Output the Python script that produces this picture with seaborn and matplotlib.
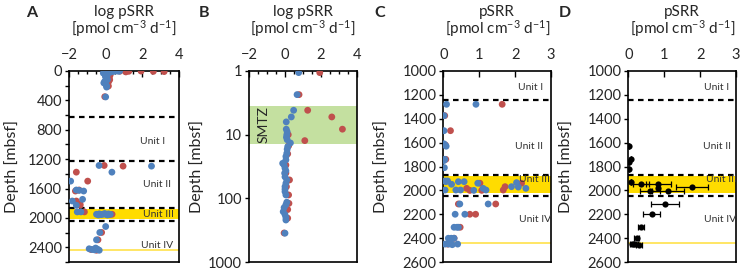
import numpy as np
import pandas as pd
import seaborn as sns
import matplotlib.pyplot as plt
from matplotlib.ticker import MultipleLocator, FixedLocator, FixedFormatter, NullLocator

# shallow samples (log pSRR), used in panel A top and panel B
shallow_depth_blue = [1.06, 2.35, 4.14, 5.27, 6.3, 8.2, 9.0, 10.0, 11.0, 12.0, 13.5, 15.4, 17.0, 19.6,
                      22.0, 24.9, 28.2, 30.0, 33.7, 37.0, 40.3, 46.0, 51.4, 58.0, 65.5, 72.0, 78.5,
                      88.5, 115, 126, 140, 162, 180, 200, 219, 353]
shallow_log_blue = [0.76, 0.67, 0.48, 0.35, 0.07, 0.07, 0.12, 0.10, 0.08, 0.12, 0.30, 0.15, 0.12, 0.10,
                    0.05, 0.05, -0.13, -0.05, 0.0, 0.05, -0.02, 0.0, 0.10, 0.05, 0.0, 0.0, 0.0,
                    0.05, 0.10, 0.05, -0.05, -0.10, 0.0, 0.05, 0.05, 0.0]
shallow_depth_red = [1.06, 2.35, 4.14, 5.27, 8.2, 10.0, 12.4, 15.0, 20.0, 30.0, 40.0, 51.4, 65.5,
                     88.5, 120, 150, 205, 350]
shallow_log_red = [1.93, 0.78, 1.26, 2.60, 3.19, 0.18, 1.10, 0.20, 0.15, 0.05, 0.05, 0.25, 0.08,
                   0.20, 0.22, 0.15, 0.15, -0.05]

# deep samples (log pSRR), panel A
deep_depth_blue = [1286, 1295, 1377, 1499, 1620, 1625, 1634, 1747, 1770, 1828, 1918, 1918,
                   1950, 1945, 1955, 1950, 1940, 1955, 1945, 1950, 1960, 1960,
                   2117, 2198, 2298, 2420, 2430, 2435, 2425, 2440, 2410]
deep_log_blue = [-0.36, 2.50, 0.34, -1.91, -1.60, -1.45, -1.20, -1.26, -1.82, -1.60, -1.55, -1.35,
                 -0.50, -0.35, -0.25, -0.15, -0.05, 0.05, 0.15, 0.25, -0.40, 0.10,
                 0.0, -0.32, -0.50, -0.90, -0.75, -0.60, -0.45, -0.35, -0.55]
deep_depth_red = [1286, 1295, 1377, 1499, 1620, 1634, 1770, 1810, 1828, 1918, 1950, 1955,
                  2198, 2298, 2430, 2440]
deep_log_red = [-0.08, 0.95, -1.60, -0.98, -1.45, -1.65, -1.60, -1.40, -1.39, -1.16, 0.35, 0.20,
                -0.22, -0.42, -0.80, -0.50]

# deep samples (linear pSRR), panel C
c_depth_blue = [1279, 1279, 1374, 1500, 1610, 1620, 1630, 1740, 1750, 1810, 1921, 1921, 1927,
                1949, 1927, 1927, 1997, 1997, 2000, 1940, 1983, 1997, 1969, 1935, 1972, 1983,
                1997, 2114, 2114, 2200, 2200, 2309, 2309, 2309, 2401, 2401, 2401,
                2450, 2450, 2455, 2450, 2440]
c_rate_blue = [0.09, 0.91, 0.02, 0.02, 0.02, 0.05, 0.08, 0.04, 0.02, 0.03, 0.05, 0.12, 0.07,
               0.23, 0.42, 0.58, 0.35, 0.48, 0.85, 0.96, 1.11, 1.19, 1.90, 2.04, 2.09, 2.30,
               0.05, 0.46, 1.25, 0.33, 0.60, 0.30, 0.38, 0.42, 0.14, 0.22, 0.30,
               0.05, 0.15, 0.25, 0.40, 0.20]
c_depth_red = [1279, 1374, 1500, 1620, 1740, 1983, 2000, 1940, 2000, 1997, 1969, 1940,
               2114, 2114, 2200, 2200, 2309, 2401, 2450]
c_rate_red = [1.64, 0.04, 0.20, 0.06, 0.07, 0.65, 0.74, 1.02, 1.07, 1.67, 1.72, 2.18,
              0.42, 1.46, 0.74, 0.90, 0.47, 0.30, 0.12]

# means with error, panel D
d_depth = [1628, 1740, 1760, 1820, 1927, 1949, 1949, 2002, 1983, 2002, 1969, 2114, 2200,
           2309, 2401, 2450, 2450, 2455]
d_mean = [0.03, 0.08, 0.02, 0.02, 0.08, 0.35, 0.84, 0.60, 0.82, 1.11, 1.77, 1.02, 0.65,
          0.35, 0.23, 0.10, 0.20, 0.30]
d_err = [0.0, 0.0, 0.0, 0.0, 0.0, 0.22, 0.36, 0.28, 0.0, 0.45, 0.45, 0.40, 0.24,
         0.08, 0.08, 0.05, 0.08, 0.08]

unit_names = ["Unit I", "Unit II", "Unit III", "Unit IV"]
unit_depth_a = [957, 1543, 1950, 2378]
unit_depth_cd = [1137, 1634, 1913, 2248]

RED, BLUE = "#c0504d", "#4f81bd"
YELLOW = "#ffdc00"

sns.set_style("ticks")
plt.rcParams['font.family'] = ['Lato', 'DejaVu Sans']
plt.rcParams['mathtext.default'] = 'regular'


def make_df(dr, vr, db, vb):
    return pd.DataFrame({
        "depth": list(dr) + list(db),
        "val": list(vr) + list(vb),
        "series": ["red"] * len(dr) + ["blue"] * len(db),
    })


fig = plt.figure(figsize=(7.43, 2.70), dpi=100)
W, H = 743, 270
def px_axes(x0, x1):
    return fig.add_axes([x0 / W, 1 - 262 / H, (x1 - x0) / W, (262 - 71) / H])

axA = px_axes(69, 179)
axB = px_axes(249, 357)
axC = px_axes(443.3, 551)
axD = px_axes(628.3, 736)

pal = {"red": RED, "blue": BLUE}


def style_axis(ax, title, ylab_x):
    ax.xaxis.tick_top()
    ax.tick_params(axis="x", which="both", direction="in", pad=6.5, labelsize=10.5, width=1, color="black")
    ax.tick_params(axis="x", which="major", length=4)
    ax.tick_params(axis="x", which="minor", length=2.5)
    ax.tick_params(axis="y", which="both", direction="out", left=True, right=False, labelsize=10.5, pad=2,
                   width=1, color="black")
    ax.tick_params(axis="y", which="major", length=3)
    ax.tick_params(axis="y", which="minor", length=3)
    for s in ax.spines.values():
        s.set_visible(True)
        s.set_color("black")
        s.set_linewidth(1.2)
    ax.set_xlabel("")
    ax.set_ylabel("Depth [mbsf]", fontsize=11.5)
    ax.yaxis.set_label_coords(ylab_x, 0.5)
    ax.text(0.5, 1.31, title, transform=ax.transAxes, ha="center", va="center", fontsize=11)
    ax.text(0.5, 1.22, "[pmol cm$^{-3}$ d$^{-1}$]", transform=ax.transAxes, ha="center",
            va="center", fontsize=11)
    leg = ax.get_legend()
    if leg is not None:
        leg.remove()


def units(ax, xs, ys):
    for name, x, y in zip(unit_names, xs, ys):
        ax.text(x, y, name, ha="center", va="center", fontsize=7.5, color="#333333")


# ---- Panel A
dfA = make_df(list(shallow_depth_red) + deep_depth_red, list(shallow_log_red) + deep_log_red,
              list(shallow_depth_blue) + deep_depth_blue, list(shallow_log_blue) + deep_log_blue)
axA.axhspan(1880, 2020, color=YELLOW, lw=0, zorder=0)
axA.axhline(2440, color="#ffe24a", lw=1.2, zorder=1)
for d in [620, 1220, 1870, 2045]:
    axA.axhline(d, color="black", lw=1.6, ls=(0, (2.5, 2)), zorder=1)
sns.scatterplot(data=dfA, x="val", y="depth", hue="series", palette=pal, s=24, linewidth=0,
                ax=axA, zorder=3)
axA.set_xlim(-2, 4)
axA.set_ylim(2600, 0)
axA.xaxis.set_major_locator(MultipleLocator(2))
axA.xaxis.set_minor_locator(MultipleLocator(0.5))
axA.yaxis.set_major_locator(FixedLocator([0, 400, 800, 1200, 1600, 2000, 2400]))
axA.yaxis.set_minor_locator(MultipleLocator(200))
style_axis(axA, "log pSRR", -0.45)
units(axA, [2.55, 2.8, 2.86, 2.83], unit_depth_a)

# ---- Panel B
dfB = make_df(shallow_depth_red, shallow_log_red, shallow_depth_blue, shallow_log_blue)
axB.axhspan(3.5, 14, color="#c4e0a0", lw=0, zorder=0)
sns.scatterplot(data=dfB, x="val", y="depth", hue="series", palette=pal, s=24, linewidth=0,
                ax=axB, zorder=3)
axB.set_yscale("log")
axB.set_xlim(-2, 4)
axB.set_ylim(1000, 1)
axB.xaxis.set_major_locator(MultipleLocator(2))
axB.xaxis.set_minor_locator(MultipleLocator(0.5))
axB.yaxis.set_major_locator(FixedLocator([1, 10, 100, 1000]))
axB.yaxis.set_major_formatter(FixedFormatter(["1", "10", "100", "1000"]))
axB.yaxis.set_minor_locator(NullLocator())
style_axis(axB, "log pSRR", -0.42)
axB.text(-1.2, 7, "SMTZ", rotation=90, ha="center", va="center", fontsize=10)

# ---- Panel C
dfC = make_df(c_depth_red, c_rate_red, c_depth_blue, c_rate_blue)
axC.axhspan(1880, 2020, color=YELLOW, lw=0, zorder=0)
axC.axhline(2445, color="#ffe24a", lw=1.2, zorder=1)
for d in [1240, 1868, 2048]:
    axC.axhline(d, color="black", lw=1.6, ls=(0, (2.5, 2)), zorder=1)
sns.scatterplot(data=dfC, x="val", y="depth", hue="series", palette=pal, s=24, linewidth=0,
                ax=axC, zorder=3)
axC.set_xlim(0, 3)
axC.set_ylim(2600, 1000)
axC.xaxis.set_major_locator(MultipleLocator(1))
axC.xaxis.set_minor_locator(NullLocator())
axC.yaxis.set_major_locator(MultipleLocator(200))
style_axis(axC, "pSRR", -0.51)
units(axC, [2.43, 2.4, 2.55, 2.55], unit_depth_cd)

# ---- Panel D
dfD = pd.DataFrame({"depth": d_depth, "val": d_mean, "err": d_err})
axD.axhspan(1880, 2020, color=YELLOW, lw=0, zorder=0)
axD.axhline(2440, color="#ffe24a", lw=1.2, zorder=1)
for d in [1240, 1868, 2048]:
    axD.axhline(d, color="black", lw=1.6, ls=(0, (2.5, 2)), zorder=1)
axD.errorbar(dfD["val"], dfD["depth"], xerr=dfD["err"], fmt="none", ecolor="black",
             elinewidth=0.9, capsize=2.2, capthick=0.9, zorder=2)
sns.scatterplot(data=dfD, x="val", y="depth", color="black", s=20, linewidth=0, ax=axD, zorder=3)
axD.set_xlim(0, 3)
axD.set_ylim(2600, 1000)
axD.xaxis.set_major_locator(MultipleLocator(1))
axD.xaxis.set_minor_locator(NullLocator())
axD.yaxis.set_major_locator(MultipleLocator(200))
style_axis(axD, "pSRR", -0.51)
units(axD, [2.47, 2.47, 2.6, 2.56], unit_depth_cd)

for letter, x in zip("ABCD", [32, 204, 380, 565]):
    fig.text(x / W, 1 - 13 / H, letter, ha="center", va="center", fontsize=11.5, fontweight="bold")

fig.savefig("out.png", dpi=100)
